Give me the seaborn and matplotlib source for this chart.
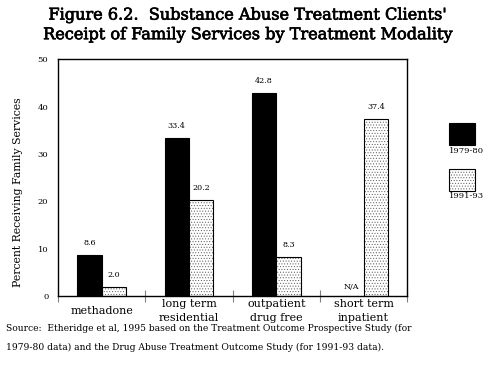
import numpy as np
import pandas as pd
import seaborn as sns
import matplotlib.pyplot as plt
import matplotlib.patheffects as pe
from matplotlib.patches import Rectangle

modalities = ["methadone", "long term\nresidential", "outpatient\ndrug free", "short term\ninpatient"]
periods = ["1979-80", "1991-93"]
vals_7980 = [8.6, 33.4, 42.8, np.nan]
vals_9193 = [2.0, 20.2, 8.3, 37.4]
title = "Figure 6.2.  Substance Abuse Treatment Clients'\nReceipt of Family Services by Treatment Modality"
source_lines = ["Source:  Etheridge et al, 1995 based on the Treatment Outcome Prospective Study (for",
                "1979-80 data) and the Drug Abuse Treatment Outcome Study (for 1991-93 data)."]

df = pd.DataFrame({
    "modality": modalities * 2,
    "period": [periods[0]] * 4 + [periods[1]] * 4,
    "pct": vals_7980 + vals_9193,
}).dropna()

sns.set_style("white")
plt.rcParams["font.family"] = "serif"
plt.rcParams["font.serif"] = ["DejaVu Serif", "Liberation Serif"]
plt.rcParams["hatch.linewidth"] = 0.4
plt.rcParams["text.color"] = "black"
plt.rcParams["axes.labelcolor"] = "black"

DOTS = "......"
DOT_COLOR = (0.35, 0.35, 0.35, 1)

fig = plt.figure(figsize=(4.96, 3.65), dpi=100)
ax = fig.add_axes([0.117, 0.189, 0.704, 0.649])

sns.barplot(data=df, x="modality", y="pct", hue="period", order=modalities,
            hue_order=periods, palette=["black", "white"], width=0.56,
            edgecolor="black", linewidth=0.8, legend=False, ax=ax)

for bar in ax.containers[1]:
    bar.set_hatch(DOTS)
    bar._hatch_color = DOT_COLOR

# value labels
for cont in ax.containers:
    for bar in cont:
        h = bar.get_height()
        ax.text(bar.get_x() + bar.get_width() / 2, h + 2.5, f"{h:.1f}",
                ha="center", va="center", fontsize=5.8)
b = ax.containers[1][3]
ax.text(b.get_x() - b.get_width() / 2, 1.8, "N/A", ha="center", va="center", fontsize=5.8)

ax.set_xlim(-0.5, 3.5)
ax.set_ylim(0, 50)
ax.set_yticks(range(0, 51, 10))
ax.set_yticks(range(5, 50, 10), minor=True)
ax.tick_params(axis="y", which="both", direction="inout", length=8, width=0.8,
               color="gray", labelcolor="black", labelsize=6, pad=3)
ax.set_xticks([-0.5, 0.5, 1.5, 2.5, 3.5])
ax.set_xticklabels([])
ax.set_xticks(range(4), minor=True)
ax.set_xticklabels(modalities, minor=True, fontsize=8, linespacing=1.45, va="center")
ax.tick_params(axis="x", which="major", direction="inout", length=9, width=0.8,
               color="gray", bottom=True)
ax.tick_params(axis="x", which="minor", length=0, pad=11, labelcolor="black")
ax.set_xlabel("")
ax.set_ylabel("Percent Receiving Family Services", fontsize=7.8)
ax.yaxis.set_label_coords(-0.1, 0.44)
for s in ax.spines.values():
    s.set_color("black")
    s.set_linewidth(1)

fig.text(0.5, 0.982, title, ha="center", va="top", fontsize=11.6,
         linespacing=1.2,
         path_effects=[pe.withStroke(linewidth=0.5, foreground="black")])
for y, line in zip([0.099, 0.047], source_lines):
    fig.text(0.012, y, line, ha="left", va="center", fontsize=6.6)

# legend drawn as in the original: box with label underneath
for i, (p, fc) in enumerate(zip(periods, ["black", "white"])):
    y0 = 0.603 - i * 0.125
    r = Rectangle((0.905, y0), 0.052, 0.06, transform=fig.transFigure,
                  facecolor=fc, edgecolor="black", linewidth=0.8,
                  hatch=DOTS if i else None)
    if i:
        r._hatch_color = DOT_COLOR
    fig.add_artist(r)
    fig.text(0.905, y0 - 0.005, p, ha="left", va="top", fontsize=6)

fig.savefig("out.png", dpi=100)
